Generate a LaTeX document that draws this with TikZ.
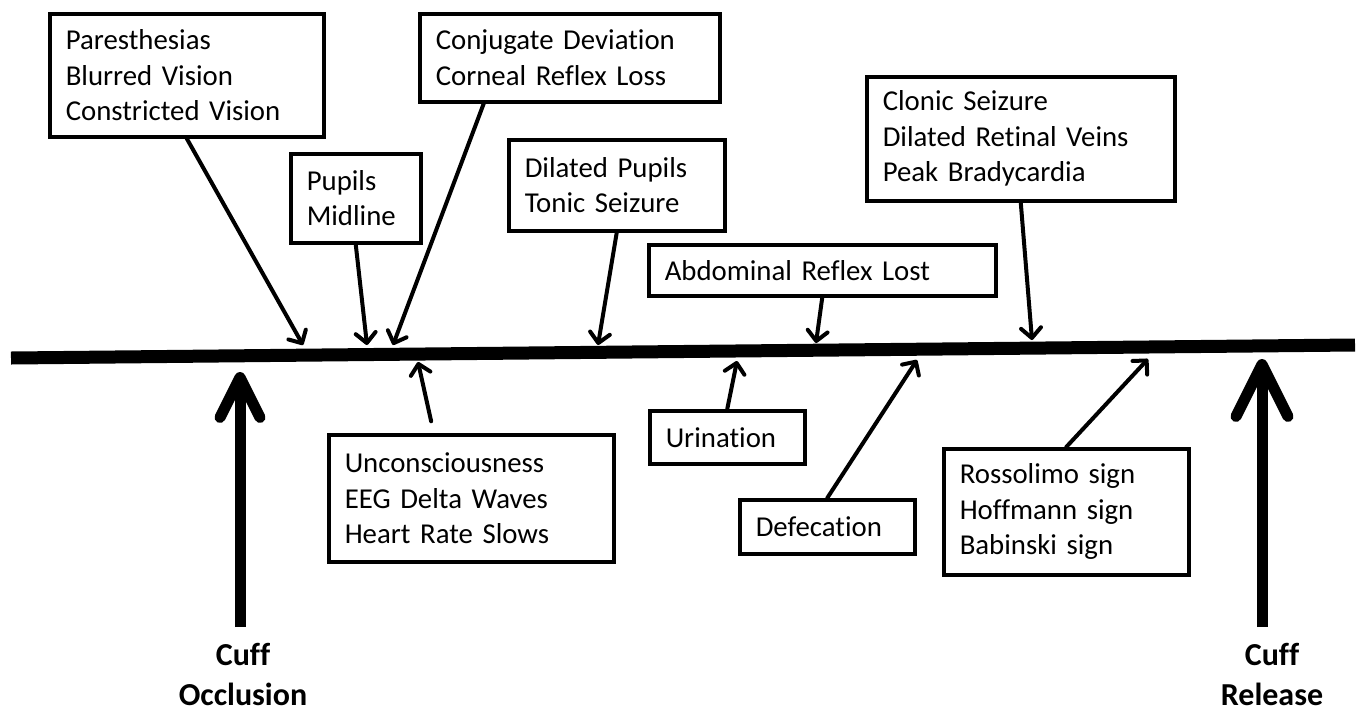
\documentclass[tikz,border=0pt]{standalone}
\usepackage{fontspec}
\setmainfont{Carlito}[Ligatures=NoCommon]
\usetikzlibrary{arrows.meta}
\tikzset{
  sign/.style={draw, line width=1.75pt, anchor=north west, inner xsep=8pt,
    inner ysep=0pt, align=left, font=\fontsize{14.4pt}{17.75pt}\selectfont},
  cuff/.style={align=center, inner sep=0pt, anchor=north,
    font=\bfseries\fontsize{16pt}{20pt}\selectfont},
  pointer/.style={-{Straight Barb[length=5pt, width=10pt, round]},
    line width=2pt, line cap=round},
  event/.style={-{Straight Barb[length=#1, width=#1, round]},
    line width=5.5pt},
}

\begin{document}
\begin{tikzpicture}[x=0.5pt, y=-0.5pt]
  \useasboundingbox (0,0) rectangle (1360,713);

  % Time line
  \draw[line width=6.5pt] (11,358) -- (1355,345);

  % Points on the time line
  \coordinate (tPara) at (303,345);
  \coordinate (tPup)  at (367,345);
  \coordinate (tConj) at (393,345);
  \coordinate (tDil)  at (598,345);
  \coordinate (tAbd)  at (816,343);
  \coordinate (tClon) at (1032,340);
  \coordinate (tUnc)  at (418,362);
  \coordinate (tUri)  at (737,361);
  \coordinate (tDef)  at (917,360);
  \coordinate (tRos)  at (1148,359);
  \coordinate (tOcc)  at (240,372);
  \coordinate (tRel)  at (1262,359);

  % Signs above the line
  \node[sign, text width=121pt, minimum height=61.5pt] (para) at (48,12)
    {Paresthesias\\Blurred Vision\\Constricted Vision};
  \node[sign, text width=49pt, minimum height=44.5pt] (pup) at (289,152)
    {Pupils\\Midline};
  \node[sign, text width=134pt, minimum height=44pt] (conj) at (418,12)
    {Conjugate Deviation\\Corneal Reflex Loss};
  \node[sign, text width=92pt, minimum height=45.5pt] (dil) at (507,138)
    {Dilated Pupils\\Tonic Seizure};
  \node[sign, text width=157.5pt, minimum height=25.5pt] (abd) at (647,243)
    {Abdominal Reflex Lost};
  \node[sign, text width=138pt, minimum height=62pt] (clon) at (865,75)
    {Clonic Seizure\\Dilated Retinal Veins\\Peak Bradycardia};

  % Signs below the line
  \node[sign, text width=126.5pt, minimum height=63.5pt] (unc) at (327,433)
    {Unconsciousness\\EEG Delta Waves\\Heart Rate Slows};
  \node[sign, text width=61.5pt, minimum height=26.5pt] (uri) at (648,409)
    {Urination};
  \node[sign, text width=71.5pt, minimum height=27pt] (def) at (738,498)
    {Defecation};
  \node[sign, text width=106.5pt, minimum height=63pt] (ros) at (942,447)
    {Rossolimo sign\\Hoffmann sign\\Babinski sign};

  % Cuff labels
  \node[cuff] (occl) at (243,643) {Cuff\\Occlusion};
  \node[cuff] (rel) at (1272,643) {Cuff\\Release};

  % Pointers
  \draw[pointer] (para.south) -- (tPara);
  \draw[pointer] (pup.south) -- (tPup);
  \draw[pointer] ([xshift=-43pt]conj.south) -- (tConj);
  \draw[pointer] (dil.south) -- (tDil);
  \draw[pointer] (abd.south) -- (tAbd);
  \draw[pointer] (clon.south) -- (tClon);
  \draw[pointer, shorten <=6pt] ([xshift=-18.75pt]unc.north) -- (tUnc);
  \draw[pointer] (uri.north) -- (tUri);
  \draw[pointer] (def.north) -- (tDef);
  \draw[pointer] (ros.north) -- (tRos);

  \draw[event=20pt, shorten <=8pt] (tOcc |- occl.north) -- (tOcc);
  \draw[event=26pt, shorten <=8pt] (tRel |- rel.north) -- (tRel);

\end{tikzpicture}
\end{document}
